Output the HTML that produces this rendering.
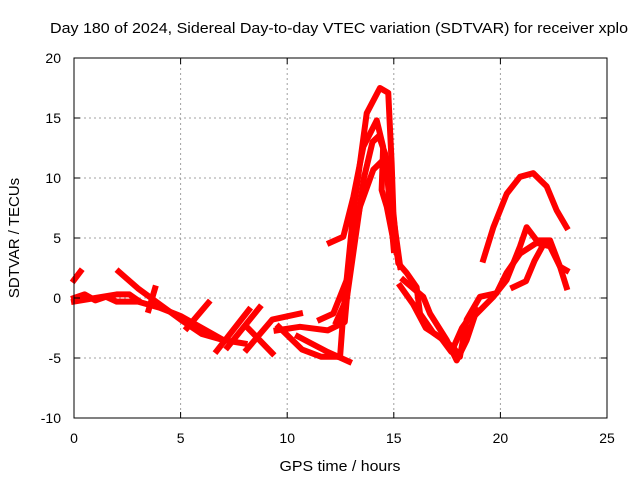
<!DOCTYPE html>
<html><head><meta charset="utf-8"><style>
body{margin:0;background:#fff}
svg{display:block;font-family:"Liberation Sans",sans-serif}
</style></head><body>
<svg id="chart" width="640" height="480">
<text x="50" y="33" font-size="15" textLength="578" lengthAdjust="spacingAndGlyphs">Day 180 of 2024, Sidereal Day-to-day VTEC variation (SDTVAR) for receiver xplo</text>
<text x="340" y="471" font-size="15" text-anchor="middle" textLength="121" lengthAdjust="spacingAndGlyphs">GPS time / hours</text>
<text transform="translate(19,238) rotate(-90)" font-size="15" text-anchor="middle">SDTVAR / TECUs</text>
<g id="grid"></g><g id="series"></g>
<rect x="74" y="58" width="533" height="360" fill="none" stroke="#000" stroke-width="1"/>
<g id="axes"></g>
</svg>
<script>
const xTicks=[0,5,10,15,20,25];
const yTicks=[-10,-5,0,5,10,15,20];
const trackEarly=[[0,0],[0.5,0.3],[1,-0.2],[1.5,0.1],[2,-0.3],[3,-0.3],[4,-0.8],[5,-1.5],[6,-2.5],[7,-3.5],[8,-3.8]];
const trackEarly2=[[2.1,2.2],[3,0.8],[4,-0.5],[5,-1.8],[6,-3],[7,-3.5]];
const trackEarly3=[[0,-0.3],[1,0],[2,0.3],[2.6,0.3],[3,-0.2]];
const branch1=[[0,1.5],[0.3,2.2]];
const branch2=[[3.5,-1],[3.8,0.8]];
const branch3=[[5.3,-2.5],[6.3,-0.4]];
const branch4=[[7.2,-4.1],[8.7,-0.8]];
const branch5=[[6.7,-4.4],[8.2,-1]];
const midA=[[8.1,-4.3],[9.3,-1.8],[10.6,-1.3]];
const midB=[[9.6,-2.4],[10.7,-4.3],[11.6,-4.9],[12.3,-4.9]];
const midC=[[8.1,-2.4],[9.3,-4.6]];
const midD=[[9.5,-2.7],[10.6,-2.4],[11.9,-2.7],[12.7,-2],[13.0,4]];
const midE=[[10.5,-3.2],[11.9,-4.5],[12.9,-5.3]];
const peakMain=[[12.48,-4.9],[12.63,-1.3],[13.1,7.1],[13.73,15.4],[14.35,17.5],[14.74,17.1],[14.9,11.2],[14.98,7.1],[15.21,2.9],[15.6,2.1],[16.07,0.9],[16.23,-1.3],[16.85,-2.9],[17.79,-4.1],[18.1,-4.9],[18.42,-1.8],[19.04,0.1],[19.82,0.4],[20.29,2.1],[20.92,3.7],[21.7,4.6],[22.33,4.3],[22.8,2.6],[23.1,0.9]];
const peakInner=[[12.0,4.6],[12.63,5.1],[13.1,8.4],[13.57,12.6],[14.2,14.8],[14.5,12.6],[14.43,9],[14.67,7.6],[14.98,4.8],[15.3,2.6]];
const peakThird=[[11.54,-1.8],[12.16,-1.3],[12.79,1.5],[13.41,7.6],[14.04,10.7],[14.5,11.5],[14.82,9],[15.06,5.7],[15.3,2.6]];
const peakFourth=[[12.3,-2],[12.8,0],[13.2,5],[13.6,10],[14.0,13],[14.3,13.5],[14.6,12],[14.8,8],[15.0,4]];
const valley=[[15.45,1.5],[16.38,0.1],[16.7,-1.3],[17.48,-3.5],[17.95,-5.2],[18.42,-3.5],[18.89,-1.0]];
const valley2=[[15.3,1],[15.9,-0.5],[16.5,-2.5],[17.2,-3.3],[17.7,-4.5],[18.2,-2.5],[18.6,-1.5]];
const arcUpper=[[19.2,3.2],[19.67,5.9],[20.3,8.7],[20.92,10.1],[21.54,10.4],[22.17,9.3],[22.64,7.3],[23.1,5.9]];
const arcMid=[[18.89,-1.3],[19.67,0.1],[20.29,1.5],[20.92,4.3],[21.23,5.9],[21.7,4.8],[22.33,4.8],[22.8,2.6],[23.1,2.3]];
const arcLow=[[20.6,0.9],[21.2,1.4],[21.6,3.1],[22.0,4.4]];
const tracks=[trackEarly,trackEarly2,trackEarly3,branch1,branch2,branch3,branch4,branch5,midA,midB,midC,midD,midE,peakMain,peakInner,peakThird,peakFourth,valley,valley2,arcUpper,arcMid,arcLow];
const NS="http://www.w3.org/2000/svg";
const sx=v=>74+v*533/25, sy=v=>298-v*12;
const grid=document.getElementById('grid'),axes=document.getElementById('axes'),ser=document.getElementById('series');
function mk(tag,at,parent){const e=document.createElementNS(NS,tag);for(const k in at)e.setAttribute(k,at[k]);parent.appendChild(e);return e;}
xTicks.forEach(t=>{const x=sx(t);
 if(t>0&&t<25){const g=mk('line',{x1:x,x2:x,y1:58,y2:418,stroke:'#a0a0a0','stroke-dasharray':'2,3'},grid);
 
 }
 const l=mk('text',{x:x,y:443,'font-size':14,'text-anchor':'middle'},axes);l.textContent=t;
 
 
 mk('line',{x1:x,x2:x,y1:418,y2:412,stroke:'#000'},axes);mk('line',{x1:x,x2:x,y1:58,y2:64,stroke:'#000'},axes);});
yTicks.forEach(t=>{const y=sy(t);
 if(t>-10&&t<20){const g=mk('line',{x1:74,x2:607,y1:y,y2:y,stroke:'#a0a0a0','stroke-dasharray':'2,3'},grid);
 
 }
 const l=mk('text',{x:61,y:y+5,'font-size':14,'text-anchor':'end'},axes);l.textContent=t;
 
 
 mk('line',{x1:74,x2:80,y1:y,y2:y,stroke:'#000'},axes);mk('line',{x1:607,x2:601,y1:y,y2:y,stroke:'#000'},axes);});
tracks.forEach(tr=>{const p=mk('polyline',{points:tr.map(d=>sx(d[0])+','+sy(d[1])).join(' '),fill:'none',stroke:'#ff0000','stroke-width':6,'stroke-linejoin':'round','stroke-linecap':'square'},ser);
 
 });
</script>
</body></html>
